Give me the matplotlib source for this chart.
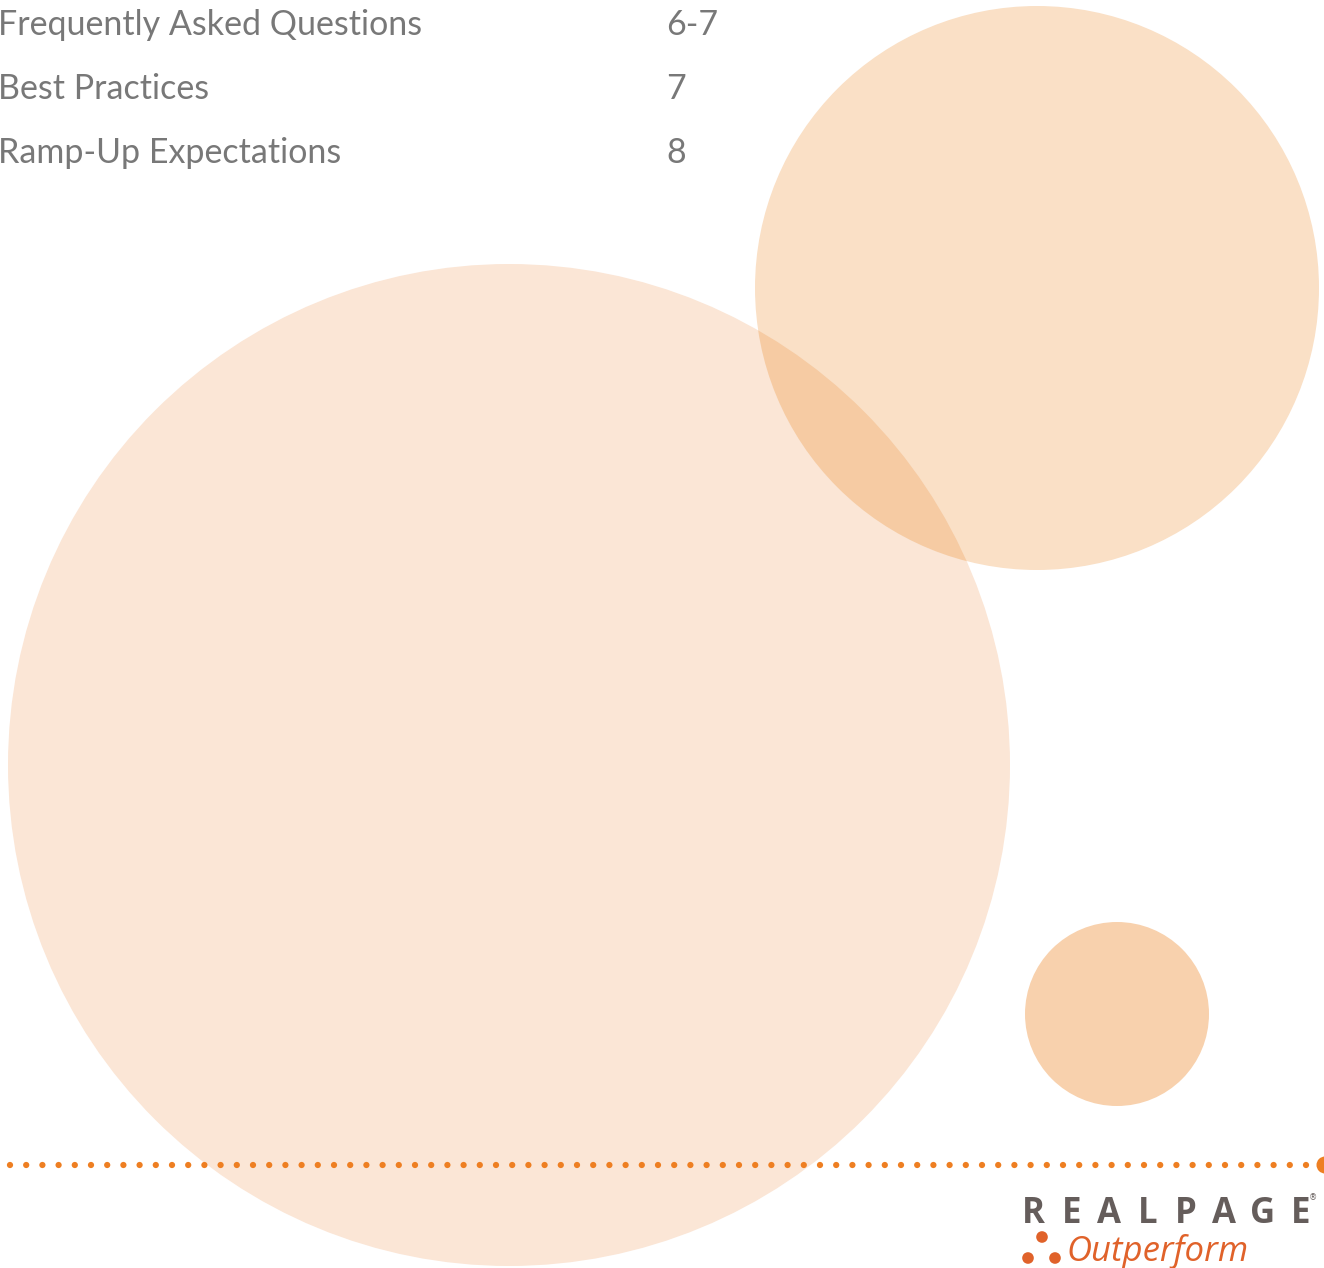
import numpy as np
import matplotlib
matplotlib.use("Agg")
import matplotlib.pyplot as plt
from matplotlib.patches import Circle

W, H = 1324, 1268

# table of contents
toc_items = ["Frequently Asked Questions", "Best Practices", "Ramp-Up Expectations"]
toc_pages = ["6-7", "7", "8"]

# bubbles: centre x, centre y, radius (pixels) and fill colour
bubble_x = [509, 1037, 1117]
bubble_y = [765, 288, 1014]
bubble_r = [501, 282, 92]
bubble_colors = ["#FBE6D6", "#FAE0C6", "#F8D1AD"]
overlap_color = "#F6CBA3"

brand_letters = list("REALPAGE")

fig = plt.figure(figsize=(W / 100, H / 100), dpi=100)
ax = fig.add_axes([0, 0, 1, 1])
ax.set_xlim(0, W)
ax.set_ylim(H, 0)
ax.axis("off")

# circles
patches = []
for x, y, r, c in zip(bubble_x, bubble_y, bubble_r, bubble_colors):
    p = Circle((x, y), r, facecolor=c, edgecolor="none", zorder=1)
    ax.add_patch(p)
    patches.append(p)

# darker lens where the big and top-right bubbles overlap
lens = Circle((bubble_x[0], bubble_y[0]), bubble_r[0], facecolor=overlap_color,
              edgecolor="none", zorder=2)
ax.add_patch(lens)
lens.set_clip_path(patches[1])

# table of contents text
for i, (item, page) in enumerate(zip(toc_items, toc_pages)):
    y = 35 + i * 64
    ax.text(-2, y, item, fontsize=24.5, family="Lato", fontweight="normal",
            color="#787878", va="baseline", ha="left", zorder=3)
    ax.text(666, y, page, fontsize=24.5, family="Lato", fontweight="normal",
            color="#787878", va="baseline", ha="left", zorder=3)

# dotted rule
dots_x = np.arange(10, 1312, 16.2)
ax.scatter(dots_x, np.full(len(dots_x), 1165), s=20, color="#EE7F22",
           edgecolors="none", zorder=3)
ax.scatter([1325], [1165], s=150, color="#EE7F22", edgecolors="none", zorder=3,
           clip_on=False)

# logo
for i, ch in enumerate(brand_letters):
    ax.text(1033 + i * 38.2, 1223, ch, fontsize=25, family="Open Sans",
            fontweight="bold", color="#655D5B", ha="center", va="baseline",
            zorder=3)
ax.text(1313, 1198, "®", fontsize=6, color="#655D5B", ha="center", va="center")

ax.scatter([1042, 1028, 1055], [1237, 1258, 1258], s=70, color="#E0622A",
           edgecolors="none", zorder=3)
ax.text(1066, 1261, "Outperform", fontsize=25, family="Open Sans", style="italic",
        color="#E0622A", ha="left", va="baseline", zorder=3)

fig.savefig("out.png", dpi=100)
